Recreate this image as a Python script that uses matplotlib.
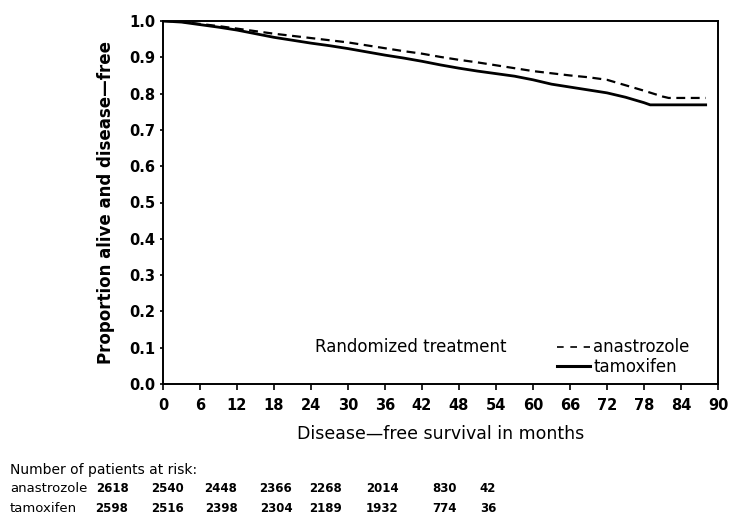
import matplotlib
matplotlib.use("Agg")
import matplotlib.pyplot as plt

# Kaplan-Meier curves (month, proportion)
meses_tam = [0, 3, 6, 9, 12, 15, 18, 21, 24, 27, 30, 33, 36, 39, 42, 45, 48, 51,
             54, 57, 60, 63, 66, 69, 72, 75, 78, 79, 88]
surv_tam = [1.0, 0.997, 0.99, 0.983, 0.975, 0.965, 0.955, 0.947, 0.939, 0.932,
            0.924, 0.915, 0.906, 0.898, 0.889, 0.879, 0.870, 0.862, 0.855, 0.848,
            0.838, 0.826, 0.818, 0.810, 0.802, 0.790, 0.775, 0.769, 0.769]

meses_ana = [0, 3, 6, 9, 12, 15, 18, 21, 24, 27, 30, 33, 36, 39, 42, 45, 48, 51,
             54, 57, 60, 63, 66, 69, 72, 75, 78, 81, 82, 88]
surv_ana = [1.0, 0.998, 0.992, 0.986, 0.979, 0.972, 0.965, 0.959, 0.953, 0.947,
            0.941, 0.933, 0.925, 0.917, 0.910, 0.901, 0.893, 0.886, 0.878, 0.870,
            0.862, 0.856, 0.850, 0.845, 0.838, 0.823, 0.808, 0.792, 0.788, 0.788]

xticks = list(range(0, 91, 6))
yticks = [0.0, 0.1, 0.2, 0.3, 0.4, 0.5, 0.6, 0.7, 0.8, 0.9, 1.0]

# patients at risk table
riesgo_ana = ["2618", "2540", "2448", "2366", "2268", "2014", "830", "42"]
riesgo_tam = ["2598", "2516", "2398", "2304", "2189", "1932", "774", "36"]
col_x = [112, 167, 221, 276, 326, 382, 445, 488]  # pixel centres of the columns

plt.rcParams['font.family'] = ['DejaVu Sans']

fig = plt.figure(figsize=(7.29, 5.23), dpi=100)
ax = fig.add_axes([163 / 729, 1 - 384 / 523, (718 - 163) / 729, (384 - 21) / 523])

ax.plot(meses_ana, surv_ana, color='black', linestyle=(0, (4, 2.5)), linewidth=1.6)
ax.plot(meses_tam, surv_tam, color='black', linestyle='-', linewidth=2.0)

ax.set_xlim(0, 90)
ax.set_ylim(0, 1.0)
ax.set_xticks(xticks)
ax.set_yticks(yticks)
ax.set_yticklabels([f"{v:.1f}" for v in yticks])
for lab in ax.get_xticklabels() + ax.get_yticklabels():
    lab.set_fontweight('bold')
    lab.set_fontsize(10.5)
ax.tick_params(axis='y', direction='out', length=2.5, width=1.2, pad=3)
ax.tick_params(axis='x', direction='out', length=4, width=1.2, pad=6)
for s in ax.spines.values():
    s.set_linewidth(1.4)

ax.set_ylabel("Proportion alive and disease\u2014free", fontsize=12, fontweight='bold', labelpad=10)
ax.set_xlabel("Disease\u2014free survival in months", fontsize=12.5, labelpad=9)

# legend drawn by hand like the original
ax.text(0.273, 0.102, "Randomized treatment", transform=ax.transAxes, fontsize=12,
        va='center', ha='left')
ax.plot([0.71, 0.769], [0.102, 0.102], transform=ax.transAxes, color='black',
        linestyle=(0, (4, 4)), linewidth=1.2)
ax.text(0.775, 0.102, "anastrozole", transform=ax.transAxes, fontsize=12,
        va='center', ha='left')
ax.plot([0.71, 0.769], [0.05, 0.05], transform=ax.transAxes, color='black',
        linestyle='-', linewidth=2.2)
ax.text(0.775, 0.048, "tamoxifen", transform=ax.transAxes, fontsize=12,
        va='center', ha='left')

# risk table
fig.text(10 / 729, 1 - 470 / 523, "Number of patients at risk:", fontsize=10, va='center')
fig.text(10 / 729, 1 - 489 / 523, "anastrozole", fontsize=9.5, va='center')
fig.text(10 / 729, 1 - 508 / 523, "tamoxifen", fontsize=9.5, va='center')
for x, a, t in zip(col_x, riesgo_ana, riesgo_tam):
    fig.text(x / 729, 1 - 489 / 523, a, fontsize=8.5, fontweight='bold', ha='center', va='center')
    fig.text(x / 729, 1 - 508 / 523, t, fontsize=8.5, fontweight='bold', ha='center', va='center')

plt.savefig("out.png", dpi=100)
